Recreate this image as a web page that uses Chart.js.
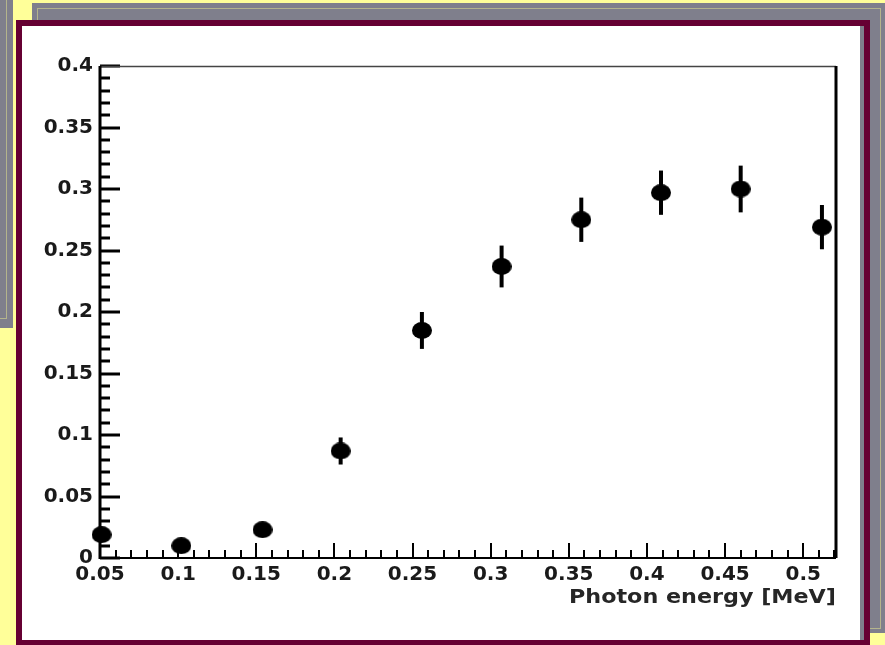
<!DOCTYPE html>
<html>
<head>
<meta charset="utf-8">
<script src="https://cdn.jsdelivr.net/npm/chart.js@4.4.1/dist/chart.umd.min.js"></script>
<style>
  body { margin: 0; width: 885px; height: 645px; overflow: hidden; background: #ffff99; position: relative; }
  .slide { position: absolute; background: #7f7f8c; }
  .slide .edge { position: absolute; border: 1px solid #b4b48c; }
  #frame { position: absolute; left: 16px; top: 20px; width: 842px; height: 614px; border: 6px solid #660033; background: #7f7f8c; }
  #panel { position: absolute; left: 22px; top: 26px; width: 838px; height: 614px; background: #fff; }
</style>
</head>
<body>
<div class="slide" style="left:-30px;top:-30px;width:43px;height:358px;"><div class="edge" style="left:-2px;top:-2px;width:37px;height:349px;"></div></div>
<div class="slide" style="left:32px;top:3px;width:880px;height:630px;"><div class="edge" style="left:5px;top:5px;width:842px;height:619px;"></div></div>
<div id="frame"></div>
<div id="panel"><canvas id="chartCanvas" width="838" height="614"></canvas></div>
<script>
var energia = [0.051, 0.102, 0.154, 0.204, 0.256, 0.307, 0.358, 0.409, 0.460, 0.512];
var valores = [0.019, 0.010, 0.023, 0.087, 0.185, 0.237, 0.275, 0.297, 0.300, 0.269];
var errores = [0.004, 0.003, 0.004, 0.011, 0.015, 0.017, 0.018, 0.018, 0.019, 0.018];

var xTicks = [0.05, 0.1, 0.15, 0.2, 0.25, 0.3, 0.35, 0.4, 0.45, 0.5];
var yTicks = [0, 0.05, 0.1, 0.15, 0.2, 0.25, 0.3, 0.35, 0.4];

var ctx = document.getElementById("chartCanvas").getContext("2d");

// marcador: elipse negra (la imagen original esta algo estirada)
var marcador = document.createElement("canvas");
marcador.width = 20;
marcador.height = 17;
var mctx = marcador.getContext("2d");
mctx.fillStyle = "#000";
mctx.beginPath();
mctx.ellipse(10, 8.5, 10, 8.5, 0, 0, Math.PI * 2);
mctx.fill();

var puntos = energia.map(function (e, i) { return { x: e, y: valores[i] }; });

var fuenteTicks = { family: '"DejaVu Sans", sans-serif', size: 20, weight: "bold" };

var barrasError = {
  id: "barrasError",
  beforeDatasetsDraw: function (chart) {
    var c = chart.ctx, xs = chart.scales.x, ys = chart.scales.y;
    c.save();
    c.strokeStyle = "#000";
    c.lineWidth = 4;
    energia.forEach(function (e, i) {
      var px = xs.getPixelForValue(e);
      c.beginPath();
      c.moveTo(px, ys.getPixelForValue(valores[i] - errores[i]));
      c.lineTo(px, ys.getPixelForValue(valores[i] + errores[i]));
      c.stroke();
    });
    c.restore();
  }
};

// ticks hacia dentro, estilo ROOT, y marco del grafico
var marco = {
  id: "marco",
  afterDraw: function (chart) {
    var c = chart.ctx, a = chart.chartArea, xs = chart.scales.x, ys = chart.scales.y;
    c.save();
    c.strokeStyle = "#000";
    // eje y
    c.lineWidth = 3;
    for (var k = 0; k <= 40; k++) {
      var v = k / 100;
      var py = Math.round(ys.getPixelForValue(v));
      var largo = (k % 5 === 0) ? 20 : 10;
      c.beginPath();
      c.moveTo(a.left, py);
      c.lineTo(a.left + largo, py);
      c.stroke();
    }
    // eje x
    c.lineWidth = 2;
    for (var j = 5; j <= 52; j++) {
      var vx = j / 100;
      var px = Math.round(xs.getPixelForValue(vx));
      var lx = (j % 5 === 0) ? 15 : 8;
      c.beginPath();
      c.moveTo(px, a.bottom);
      c.lineTo(px, a.bottom - lx);
      c.stroke();
    }
    // borde superior fino y derecho grueso
    c.lineWidth = 1.5;
    c.strokeStyle = "#444";
    c.beginPath();
    c.moveTo(a.left, a.top + 0.5);
    c.lineTo(a.right, a.top + 0.5);
    c.stroke();
    c.lineWidth = 3;
    c.strokeStyle = "#000";
    c.beginPath();
    c.moveTo(a.right, a.top);
    c.lineTo(a.right, a.bottom);
    c.stroke();
    c.beginPath();
    c.moveTo(a.left, a.top);
    c.lineTo(a.left, a.bottom + 1);
    c.stroke();
    c.lineWidth = 2;
    c.beginPath();
    c.moveTo(a.left, a.bottom);
    c.lineTo(a.right, a.bottom);
    c.stroke();

    // titulo del eje x
    var titulo = "Photon energy [MeV]";
    c.font = 'bold 19px "DejaVu Sans", sans-serif';
    c.fillStyle = "#262626";
    c.textAlign = "left";
    c.textBaseline = "alphabetic";
    var w = c.measureText(titulo).width;
    var sx = 267 / w;
    c.translate(a.right - 267, 577);
    c.scale(sx, 1);
    c.fillText(titulo, 0, 0);
    c.restore();
  }
};

var chartConfig = {
  type: "scatter",
  data: {
    datasets: [
      {
        label: "datos",
        data: puntos,
        pointStyle: marcador,
        pointRadius: 10,
        pointHoverRadius: 10,
        showLine: false,
        clip: false
      }
    ]
  },
  options: {
    responsive: false,
    animation: false,
    events: [],
    layout: {
      padding: { left: 0, top: 40, right: 24, bottom: 0 }
    },
    scales: {
      x: {
        type: "linear",
        position: "bottom",
        min: 0.05,
        max: 0.521,
        grid: { display: false, drawTicks: false },
        border: { display: false },
        afterBuildTicks: function (scale) {
          scale.ticks = xTicks.map(function (v) { return { value: v }; });
        },
        afterFit: function (scale) { scale.height = 82; },
        ticks: {
          autoSkip: false,
          maxRotation: 0,
          padding: 5,
          color: "#1a1a1a",
          font: fuenteTicks,
          callback: function (v) { return String(+v.toFixed(2)); }
        }
      },
      y: {
        type: "linear",
        min: 0,
        max: 0.4,
        grid: { display: false, drawTicks: false },
        border: { display: false },
        afterBuildTicks: function (scale) {
          scale.ticks = yTicks.map(function (v) { return { value: v }; });
        },
        afterFit: function (scale) { scale.width = 78; },
        ticks: {
          autoSkip: false,
          padding: 7,
          color: "#1a1a1a",
          font: fuenteTicks,
          callback: function (v) { return String(+v.toFixed(2)); }
        }
      }
    },
    plugins: {
      legend: { display: false },
      title: { display: false },
      tooltip: { enabled: false }
    }
  },
  plugins: [barrasError, marco]
};

var myChart = new Chart(ctx, chartConfig);
</script>
</body>
</html>
